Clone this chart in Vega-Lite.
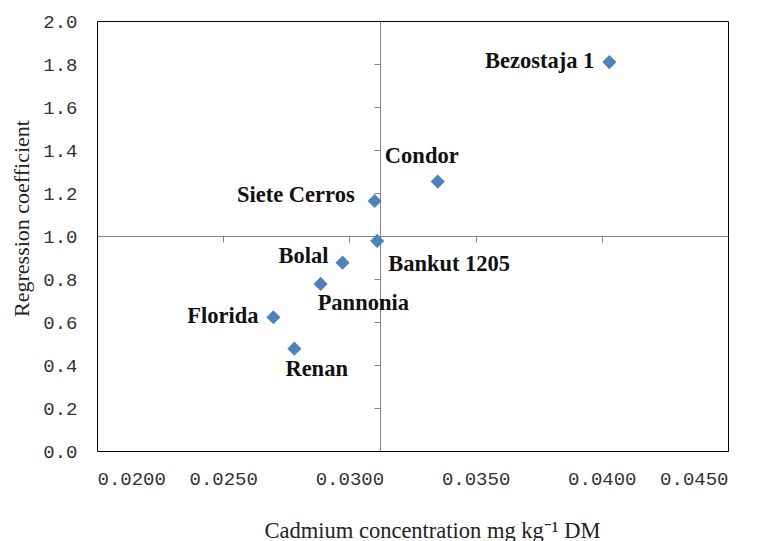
{
  "$schema": "https://vega.github.io/schema/vega-lite/v6.json",
  "width": 631,
  "height": 430,
  "autosize": "none",
  "padding": {"left": 97, "top": 21, "right": 32, "bottom": 90},
  "background": "white",
  "config": {
    "view": {"stroke": "#000000", "strokeWidth": 1},
    "font": "Liberation Serif"
  },
  "data": {
    "values": [
      {"cultivar": "Bezostaja 1", "cd": 0.0403, "coef": 1.809},
      {"cultivar": "Condor", "cd": 0.0335, "coef": 1.253},
      {"cultivar": "Siete Cerros", "cd": 0.0310, "coef": 1.163},
      {"cultivar": "Bankut 1205", "cd": 0.0311, "coef": 0.977},
      {"cultivar": "Bolal", "cd": 0.02973, "coef": 0.876},
      {"cultivar": "Pannonia", "cd": 0.02886, "coef": 0.777},
      {"cultivar": "Florida", "cd": 0.02699, "coef": 0.622},
      {"cultivar": "Renan", "cd": 0.02782, "coef": 0.476}
    ]
  },
  "resolve": {"axis": {"x": "independent", "y": "independent"}},
  "layer": [
    {
      "mark": {"type": "point", "opacity": 0},
      "encoding": {
        "x": {
          "field": "cd", "type": "quantitative",
          "scale": {"domain": [0.02, 0.045], "nice": false, "zero": false},
          "axis": {
            "orient": "bottom",
            "offset": -215,
            "values": [0.025, 0.03, 0.035, 0.04],
            "labels": false,
            "title": null,
            "grid": false,
            "domainColor": "#868686",
            "tickColor": "#868686",
            "tickSize": 6,
            "zindex": 0
          }
        },
        "y": {
          "field": "coef", "type": "quantitative",
          "scale": {"domain": [0, 2], "nice": false, "zero": true},
          "axis": {
            "orient": "left",
            "offset": -283,
            "values": [0.2, 0.4, 0.6, 0.8, 1.2, 1.4, 1.6, 1.8],
            "labels": false,
            "title": null,
            "grid": false,
            "domainColor": "#868686",
            "tickColor": "#868686",
            "tickSize": 6,
            "zindex": 0
          }
        }
      }
    },
    {
      "mark": {"type": "point", "shape": "diamond", "filled": true, "size": 200, "color": "#4F81BD", "opacity": 1},
      "encoding": {
        "x": {
          "field": "cd", "type": "quantitative",
          "axis": {
            "orient": "bottom",
            "values": [0.02, 0.025, 0.03, 0.035, 0.04, 0.045],
            "format": ".4f",
            "labelFont": "Liberation Mono",
            "labelFontSize": 19,
            "labelColor": "#333333",
            "labelPadding": 18,
            "ticks": false,
            "tickSize": 0,
            "domain": false,
            "grid": false,
            "title": "Cadmium concentration mg kg⁻¹ DM",
            "titleFont": "Liberation Serif",
            "titleFontSize": 22.5,
            "titleFontWeight": "normal",
            "titleColor": "#222222",
            "titleX": 335,
            "titleY": 79,
            "titleAlign": "center",
            "titleBaseline": "middle"
          }
        },
        "y": {
          "field": "coef", "type": "quantitative",
          "axis": {
            "orient": "left",
            "values": [0, 0.2, 0.4, 0.6, 0.8, 1.0, 1.2, 1.4, 1.6, 1.8, 2.0],
            "format": ".1f",
            "labelFont": "Liberation Mono",
            "labelFontSize": 19,
            "labelColor": "#333333",
            "labelPadding": 20,
            "ticks": false,
            "tickSize": 0,
            "domain": false,
            "grid": false,
            "title": "Regression coefficient",
            "titleFont": "Liberation Serif",
            "titleFontSize": 22,
            "titleFontWeight": "normal",
            "titleColor": "#222222",
            "titleX": -76,
            "titleY": 197,
            "titleAlign": "center",
            "titleBaseline": "middle",
            "titleAngle": -90
          }
        }
      }
    },
    {
      "transform": [{"filter": {"field": "cultivar", "oneOf": ["Bezostaja 1", "Florida"]}}],
      "mark": {"type": "text", "font": "Liberation Serif", "fontWeight": "bold", "fontSize": 22.5, "color": "#111111", "align": "right", "baseline": "middle", "dx": -15, "dy": -1},
      "encoding": {
        "x": {"field": "cd", "type": "quantitative", "axis": null},
        "y": {"field": "coef", "type": "quantitative", "axis": null},
        "text": {"field": "cultivar"}
      }
    },
    {
      "transform": [{"filter": {"field": "cultivar", "equal": "Siete Cerros"}}],
      "mark": {"type": "text", "font": "Liberation Serif", "fontWeight": "bold", "fontSize": 22.5, "color": "#111111", "align": "right", "baseline": "middle", "dx": -20, "dy": -6},
      "encoding": {
        "x": {"field": "cd", "type": "quantitative", "axis": null},
        "y": {"field": "coef", "type": "quantitative", "axis": null},
        "text": {"field": "cultivar"}
      }
    },
    {
      "transform": [{"filter": {"field": "cultivar", "equal": "Bolal"}}],
      "mark": {"type": "text", "font": "Liberation Serif", "fontWeight": "bold", "fontSize": 22.5, "color": "#111111", "align": "right", "baseline": "middle", "dx": -14, "dy": -7},
      "encoding": {
        "x": {"field": "cd", "type": "quantitative", "axis": null},
        "y": {"field": "coef", "type": "quantitative", "axis": null},
        "text": {"field": "cultivar"}
      }
    },
    {
      "transform": [{"filter": {"field": "cultivar", "equal": "Condor"}}],
      "mark": {"type": "text", "font": "Liberation Serif", "fontWeight": "bold", "fontSize": 22.5, "color": "#111111", "align": "center", "baseline": "middle", "dx": -16, "dy": -26},
      "encoding": {
        "x": {"field": "cd", "type": "quantitative", "axis": null},
        "y": {"field": "coef", "type": "quantitative", "axis": null},
        "text": {"field": "cultivar"}
      }
    },
    {
      "transform": [{"filter": {"field": "cultivar", "equal": "Bankut 1205"}}],
      "mark": {"type": "text", "font": "Liberation Serif", "fontWeight": "bold", "fontSize": 22.5, "color": "#111111", "align": "left", "baseline": "middle", "dx": 11, "dy": 23},
      "encoding": {
        "x": {"field": "cd", "type": "quantitative", "axis": null},
        "y": {"field": "coef", "type": "quantitative", "axis": null},
        "text": {"field": "cultivar"}
      }
    },
    {
      "transform": [{"filter": {"field": "cultivar", "equal": "Pannonia"}}],
      "mark": {"type": "text", "font": "Liberation Serif", "fontWeight": "bold", "fontSize": 22.5, "color": "#111111", "align": "left", "baseline": "middle", "dx": -3, "dy": 19},
      "encoding": {
        "x": {"field": "cd", "type": "quantitative", "axis": null},
        "y": {"field": "coef", "type": "quantitative", "axis": null},
        "text": {"field": "cultivar"}
      }
    },
    {
      "transform": [{"filter": {"field": "cultivar", "equal": "Renan"}}],
      "mark": {"type": "text", "font": "Liberation Serif", "fontWeight": "bold", "fontSize": 22.5, "color": "#111111", "align": "left", "baseline": "middle", "dx": -9, "dy": 20},
      "encoding": {
        "x": {"field": "cd", "type": "quantitative", "axis": null},
        "y": {"field": "coef", "type": "quantitative", "axis": null},
        "text": {"field": "cultivar"}
      }
    }
  ]
}
